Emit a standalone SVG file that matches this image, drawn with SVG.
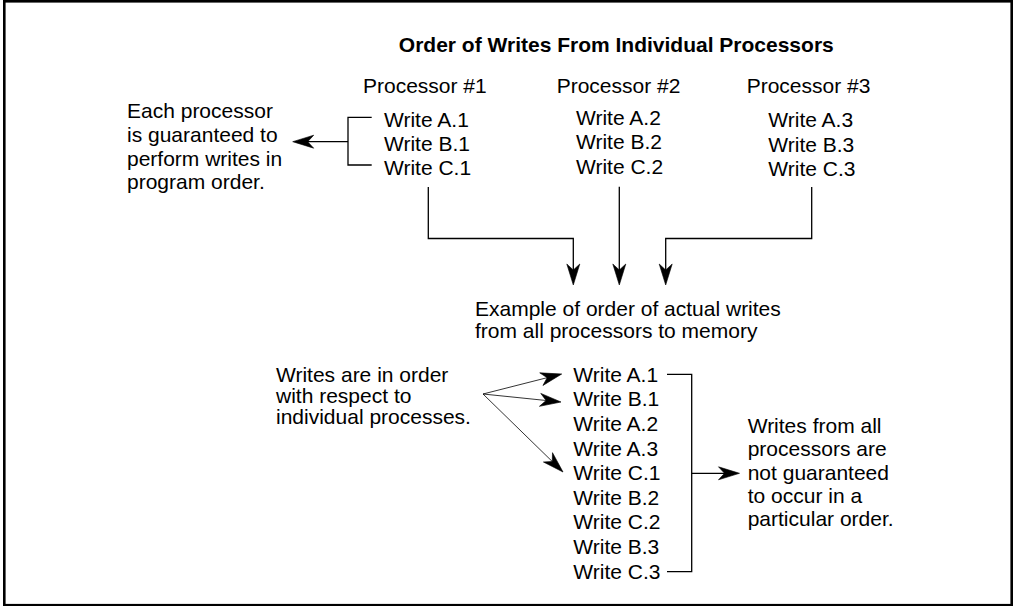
<svg xmlns="http://www.w3.org/2000/svg" width="1015" height="606" viewBox="0 0 1015 606">
  <style>
    text { font-family: "Liberation Sans", Arial, sans-serif; font-size: 21px; fill: #000; }
    .title { font-weight: bold; }
    .ln { fill: none; stroke: #000; stroke-width: 1.3; }
    .thin { fill: none; stroke: #000; stroke-width: 0.8; }
    .head { fill: #000; stroke: #000; stroke-width: 0.6; stroke-linejoin: miter; }
  </style>
  <defs>
    <path id="ah" class="head" d="M0,0 L-21,-6.5 L-15,0 L-21,6.5 Z"/>
  </defs>
  <rect id="frame" x="4.3" y="1.3" width="1007.4" height="603.9" fill="#fff" stroke="#000" stroke-width="2.6"/>

  <g id="title">
    <text class="title" x="616.3" y="52.3" text-anchor="middle">Order of Writes From Individual Processors</text>
  </g>

  <g id="processor1">
    <text x="363" y="92.5">Processor #1</text>
    <text x="384" y="126.5">Write A.1</text>
    <text x="384" y="150.8">Write B.1</text>
    <text x="384" y="175">Write C.1</text>
  </g>
  <g id="processor2">
    <text x="556.7" y="92.5">Processor #2</text>
    <text x="576" y="124.7">Write A.2</text>
    <text x="576" y="149.3">Write B.2</text>
    <text x="576" y="173.5">Write C.2</text>
  </g>
  <g id="processor3">
    <text x="746.7" y="92.5">Processor #3</text>
    <text x="768.3" y="126.7">Write A.3</text>
    <text x="768.3" y="151.5">Write B.3</text>
    <text x="768.3" y="175.7">Write C.3</text>
  </g>

  <g id="note-program-order">
    <text x="127" y="118.3">Each processor</text>
    <text x="127" y="141.7">is guaranteed to</text>
    <text x="127" y="165.5">perform writes in</text>
    <text x="127" y="189">program order.</text>
  </g>

  <g id="example-label">
    <text x="475" y="315.5">Example of order of actual writes</text>
    <text x="475" y="337.8">from all processors to memory</text>
  </g>

  <g id="note-in-order">
    <text x="276" y="381.7">Writes are in order</text>
    <text x="276" y="402.7">with respect to</text>
    <text x="276" y="423.8">individual processes.</text>
  </g>

  <g id="memory-order">
    <text x="573.3" y="381.7">Write A.1</text>
    <text x="573.3" y="406.3">Write B.1</text>
    <text x="573.3" y="430.9">Write A.2</text>
    <text x="573.3" y="455.5">Write A.3</text>
    <text x="573.3" y="480.1">Write C.1</text>
    <text x="573.3" y="504.7">Write B.2</text>
    <text x="573.3" y="529.3">Write C.2</text>
    <text x="573.3" y="553.9">Write B.3</text>
    <text x="573.3" y="578.5">Write C.3</text>
  </g>

  <g id="note-no-order">
    <text x="747.7" y="432.9">Writes from all</text>
    <text x="747.7" y="456.2">processors are</text>
    <text x="747.7" y="479.5">not guaranteed</text>
    <text x="747.7" y="502.8">to occur in a</text>
    <text x="747.7" y="525.9">particular order.</text>
  </g>

  <g id="connectors">
    <!-- bracket for processor 1 -->
    <path class="ln" d="M371.7,117.3 H348 V165 H371.7"/>
    <path class="ln" d="M348,141.7 H300"/>
    <use href="#ah" transform="translate(292.7,141.7) rotate(180)"/>
    <!-- processors to memory -->
    <path class="ln" d="M428.3,187 V238.5 H573.3 V278"/>
    <use href="#ah" transform="translate(573.3,285) rotate(90)"/>
    <path class="ln" d="M619.3,186.7 V278"/>
    <use href="#ah" transform="translate(619.3,285) rotate(90)"/>
    <path class="ln" d="M811.7,187 V238.5 H665.7 V278"/>
    <use href="#ah" transform="translate(665.7,285) rotate(90)"/>
    <!-- in-order arrows -->
    <path class="thin" d="M483,394 L555,375.7"/>
    <use href="#ah" transform="translate(561.7,374) rotate(-14.26)"/>
    <path class="thin" d="M483,394 L554,401.3"/>
    <use href="#ah" transform="translate(561,402) rotate(5.86)"/>
    <path class="thin" d="M483,394 L558,467.1"/>
    <use href="#ah" transform="translate(563,472) rotate(44.27)"/>
    <!-- bracket for memory order -->
    <path class="ln" d="M667,374.3 H691.7 V571.7 H667"/>
    <path class="ln" d="M691.7,473.3 H733"/>
    <use href="#ah" transform="translate(739.5,473.3)"/>
  </g>
</svg>
